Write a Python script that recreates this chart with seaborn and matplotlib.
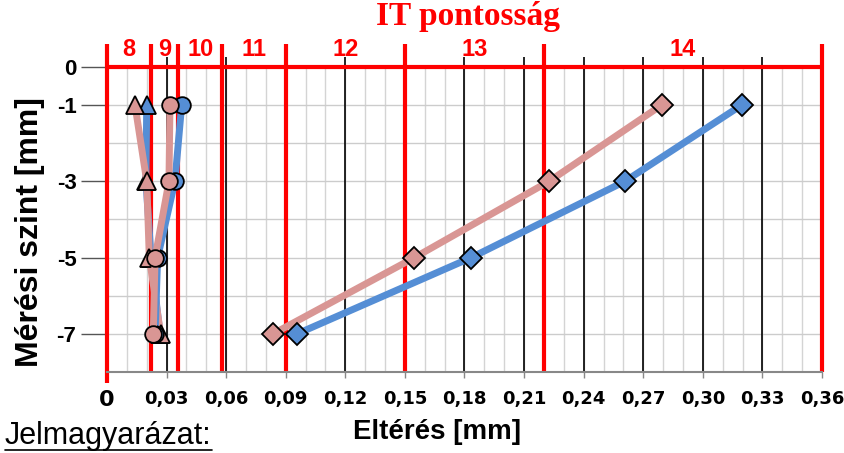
import matplotlib
matplotlib.use('Agg')
import matplotlib.pyplot as plt
from matplotlib.lines import Line2D
import numpy as np
import seaborn as sns

levels = [-1, -3, -5, -7]
blue_diamond = [0.3196, 0.2608, 0.1834, 0.0957]
pink_diamond = [0.2793, 0.2226, 0.1548, 0.0836]
blue_circle = [0.0376, 0.0342, 0.0255, 0.0242]
pink_circle = [0.0317, 0.0312, 0.0242, 0.0233]
blue_triangle = [0.0200, 0.0196, 0.0222, 0.0267]
pink_triangle = [0.0141, 0.0200, 0.0213, 0.0270]

# IT tolerance grades and their limits (6-10 mm nominal size)
it_grades = ['8', '9', '10', '11', '12', '13', '14']
it_limits = [0, 0.022, 0.036, 0.058, 0.090, 0.150, 0.220, 0.360]

x_ticks = [0, 0.03, 0.06, 0.09, 0.12, 0.15, 0.18, 0.21, 0.24, 0.27, 0.30, 0.33, 0.36]
y_ticks = [0, -1, -3, -5, -7]

BLUE = '#558ED5'
PINK = '#D99694'

sns.set_style('white')
plt.rcParams['font.family'] = ['Liberation Sans', 'DejaVu Sans']
plt.rcParams['text.color'] = 'black'
plt.rcParams['xtick.color'] = 'black'
plt.rcParams['ytick.color'] = 'black'

fig = plt.figure(figsize=(8.45, 4.53), dpi=100)
ax = fig.add_axes([107 / 845, 1 - 372 / 453, 715 / 845, 328 / 453])
ax.set_xlim(0, 0.36)
ax.set_ylim(-8, 0.6)

# grid
ax.vlines(np.arange(0.01, 0.355, 0.01), -8, 0, color='#d4d4d4', lw=1, zorder=1)
ax.hlines(range(-7, 0), 0, 0.36, color='#cccccc', lw=1, zorder=1)
ax.vlines(x_ticks[1:], -8, 0.27, color='black', lw=1.2, zorder=1.5)

# IT grade boundaries
ax.vlines(it_limits[1:], -8, 0.6, color='red', lw=3, zorder=2, clip_on=False)
ax.vlines(it_limits[0], -8.3, 0.6, color='red', lw=3, zorder=2, clip_on=False)
ax.hlines(0, 0, 0.36, color='red', lw=3, zorder=2, clip_on=False)
for i, grade in enumerate(it_grades):
    mid = (it_limits[i] + it_limits[i + 1]) / 2
    ax.text(mid, 0.45, grade, color='red', fontsize=17, fontweight='bold',
            ha='center', va='center')

# data series
series = [
    (blue_triangle, BLUE, '^', 13),
    (pink_triangle, PINK, '^', 13),
    (blue_circle, BLUE, 'o', 12),
    (pink_circle, PINK, 'o', 12),
    (pink_diamond, PINK, 'D', 11),
    (blue_diamond, BLUE, 'D', 11),
]
for k, (vals, col, mk, ms) in enumerate(series):
    sns.lineplot(x=vals, y=levels, ax=ax, sort=False, estimator=None,
                 color=col, lw=5, marker=mk, markersize=ms,
                 markeredgecolor='black', markeredgewidth=1.3, zorder=3 + k)

# axes styling
for side in ['top', 'right', 'left']:
    ax.spines[side].set_visible(False)
ax.spines['bottom'].set_color('#888888')
ax.spines['bottom'].set_linewidth(1.5)

ax.set_yticks(y_ticks)
ax.set_yticklabels([str(v) for v in y_ticks], fontsize=16, fontweight='bold')
ax.tick_params(axis='y', length=19, width=1, color='#555555', pad=3, left=True)

ax.set_xticks(x_ticks)
labels = ['0'] + [f'{v:.2f}'.replace('.', ',') for v in x_ticks[1:]]
ax.set_xticklabels(labels, fontsize=13, fontweight='bold',
                   family=['Liberation Sans Narrow', 'DejaVu Sans'])
ax.get_xticklabels()[0].set_fontsize(16)
ax.tick_params(axis='x', length=4, width=1, color='#888888', pad=9, bottom=True)
ax.set_xlabel('')
ax.set_ylabel('')

fig.text(468 / 845, 1 - 16 / 453, 'IT pontosság', color='red', fontsize=24,
         fontweight='bold', family=['Liberation Serif', 'DejaVu Serif'],
         ha='center', va='center')
fig.text(30 / 845, 1 - 232 / 453, 'Mérési szint [mm]', rotation=90,
         fontsize=23, fontweight='bold', ha='center', va='center')
fig.text(437 / 845, 1 - 432 / 453, 'Eltérés [mm]', fontsize=20,
         fontweight='bold', ha='center', va='center')
legend_txt = fig.text(5 / 845, 1 - 436 / 453, 'Jelmagyarázat:', fontsize=22,
                      ha='left', va='center',
                      family=['Liberation Sans Narrow', 'Liberation Sans'])

# underline the legend caption
fig.canvas.draw()
bb = legend_txt.get_window_extent()
W, H = fig.bbox.width, fig.bbox.height
fig.add_artist(Line2D([bb.x0 / W, bb.x1 / W], [(bb.y0 + 1) / H] * 2,
                      color='black', lw=1.2))

fig.savefig('out.png', dpi=100)
